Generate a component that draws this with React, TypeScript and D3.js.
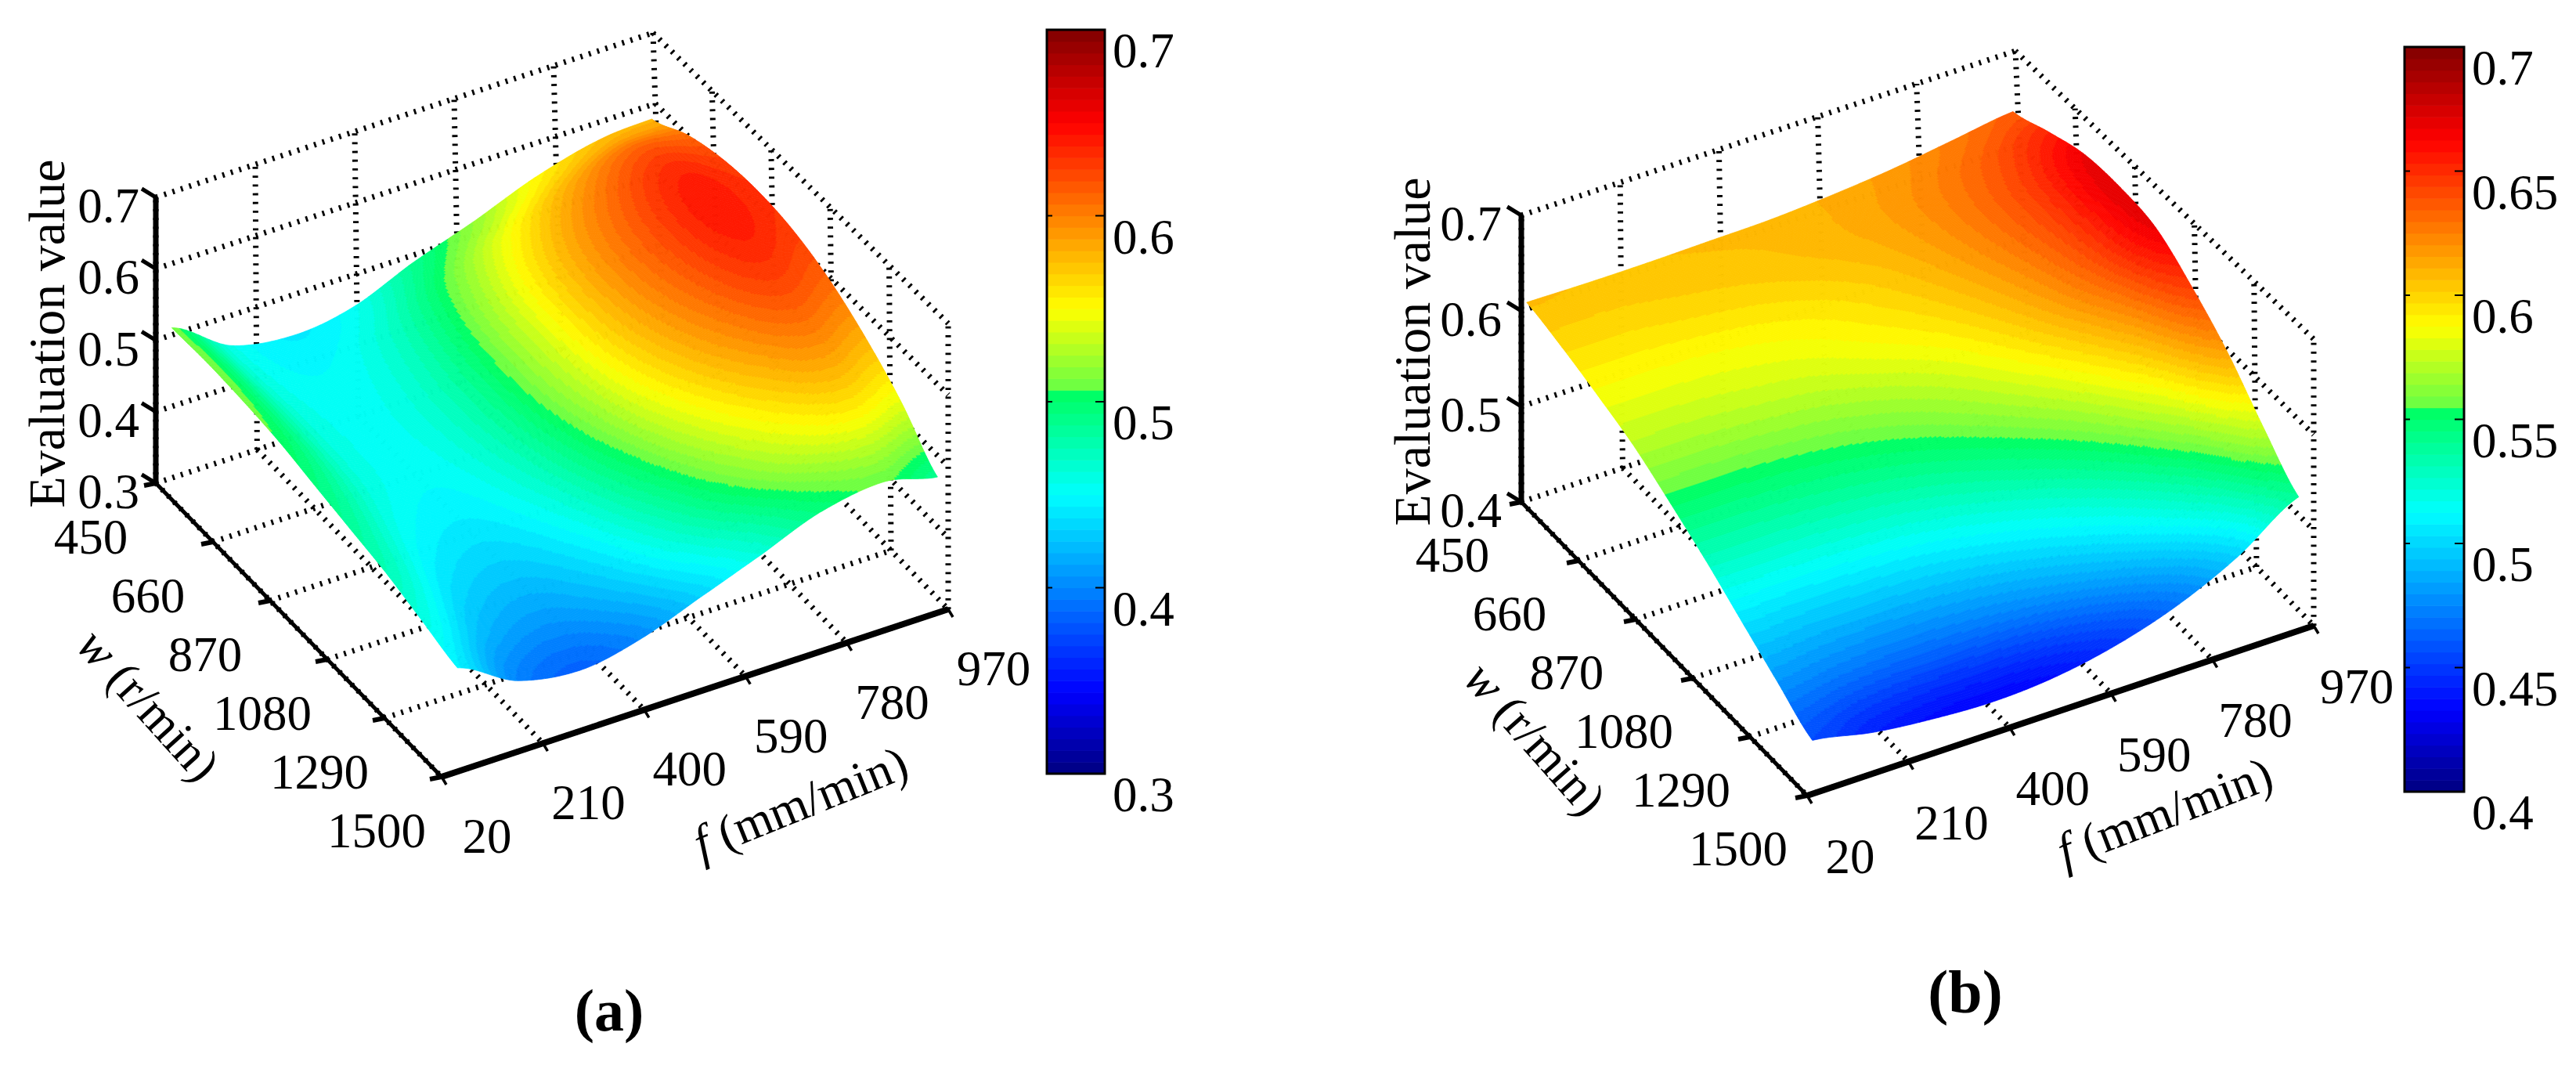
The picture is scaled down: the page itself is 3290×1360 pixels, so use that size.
import * as d3 from "d3";

const wTicks = [450, 660, 870, 1080, 1290, 1500];
const fTicks = [20, 210, 400, 590, 780, 970];

// surface samples, rows are w, columns are f
const wNodes = [450, 581, 712, 844, 975, 1106, 1237, 1369, 1500];
const fNodesA = [50, 160, 280, 390, 500, 620, 730, 850, 950];
const fNodesB = [30, 144, 258, 372, 485, 600, 714, 828, 942];

const surfaceA = [
  [0.51, 0.458, 0.443, 0.455, 0.489, 0.52, 0.552, 0.575, 0.58],
  [0.512, 0.46, 0.45, 0.468, 0.507, 0.55, 0.585, 0.612, 0.609],
  [0.51, 0.462, 0.454, 0.475, 0.518, 0.569, 0.605, 0.634, 0.626],
  [0.505, 0.462, 0.455, 0.478, 0.522, 0.575, 0.612, 0.642, 0.632],
  [0.495, 0.46, 0.452, 0.475, 0.519, 0.571, 0.608, 0.637, 0.627],
  [0.485, 0.452, 0.444, 0.466, 0.508, 0.558, 0.594, 0.621, 0.61],
  [0.475, 0.44, 0.43, 0.45, 0.489, 0.535, 0.57, 0.594, 0.581],
  [0.46, 0.423, 0.41, 0.428, 0.463, 0.504, 0.537, 0.557, 0.542],
  [0.445, 0.4, 0.385, 0.4, 0.43, 0.463, 0.495, 0.508, 0.49],
];

const surfaceB = [
  [0.607, 0.606, 0.606, 0.607, 0.608, 0.612, 0.618, 0.627, 0.636],
  [0.598, 0.598, 0.6, 0.602, 0.606, 0.612, 0.622, 0.636, 0.653],
  [0.586, 0.586, 0.587, 0.59, 0.596, 0.606, 0.621, 0.641, 0.668],
  [0.572, 0.572, 0.574, 0.577, 0.585, 0.596, 0.614, 0.639, 0.672],
  [0.552, 0.552, 0.554, 0.558, 0.566, 0.58, 0.601, 0.63, 0.668],
  [0.53, 0.53, 0.532, 0.536, 0.544, 0.558, 0.578, 0.607, 0.645],
  [0.505, 0.503, 0.504, 0.507, 0.515, 0.528, 0.548, 0.577, 0.615],
  [0.48, 0.475, 0.472, 0.474, 0.48, 0.492, 0.511, 0.539, 0.575],
  [0.456, 0.443, 0.436, 0.433, 0.437, 0.449, 0.469, 0.499, 0.54],
];

const zTicksA = [0.3, 0.4, 0.5, 0.6, 0.7];
const zTicksB = [0.4, 0.5, 0.6, 0.7];
const barTicksA = [0.3, 0.4, 0.5, 0.6, 0.7];
const barTicksB = [0.4, 0.45, 0.5, 0.55, 0.6, 0.65, 0.7];

// colormap stops of the bar (jet with the odd step at green)
const cmapStops = [0, 0.11, 0.375, 0.51, 0.515, 0.625, 0.75, 0.875, 1];
const cmapColors = ["#000080", "#0000ff", "#00ffff", "#00ff64", "#64ff46", "#ffff00", "#ff8000", "#ff0000", "#800000"];
const cmapLevels = 64;

const jet = d3.scaleLinear<string>().domain(cmapStops).range(cmapColors).clamp(true);

const FONT = "'Liberation Serif', 'Times New Roman', serif";
const GRID_STEPS = 260;

// catmull-rom through the read samples, only to shade between them
const cr = (a: number, b: number, c: number, d: number, t: number) =>
  0.5 * (2 * b + (c - a) * t + (2 * a - 5 * b + 4 * c - d) * t * t + (3 * b - a - 3 * c + d) * t * t * t);

const sample = (m: number[][], r: number, c: number) => {
  const nr = m.length - 1, nc = m[0].length - 1;
  const i = Math.min(nr - 1, Math.floor(r)), j = Math.min(nc - 1, Math.floor(c));
  const tr = r - i, tc = c - j;
  const rowAt = (k: number) => {
    const row = m[Math.max(0, Math.min(nr, k))];
    const at = (q: number) => row[Math.max(0, Math.min(nc, q))];
    return cr(at(j - 1), at(j), at(j + 1), at(j + 2), tc);
  };
  return cr(rowAt(i - 1), rowAt(i), rowAt(i + 1), rowAt(i + 2), tr);
};

type PanelProps = {
  origin: [number, number];
  wVec: [number, number];
  fVec: [number, number];
  zVec: [number, number];
  lean: [number, number];
  zTicks: number[];
  fNodes: number[];
  surface: number[][];
  barX: number;
  barY: [number, number];
  barWidth: number;
  barTicks: number[];
  wLabel: [number, number];
  fLabel: [number, number];
  zLabelX: number;
  zTitle: [number, number];
  wTitle: [number, number, number];
  fTitle: [number, number, number];
};

const Panel = (p: PanelProps) => {
  const zMin = p.zTicks[0], zMax = p.zTicks[p.zTicks.length - 1];
  const wS = d3.scaleLinear().domain([450, 1500]).range([0, 1]);
  const fS = d3.scaleLinear().domain([20, 970]).range([0, 1]);
  const zS = d3.scaleLinear().domain([zMin, zMax]).range([0, 1]);
  const colorT = d3.scaleLinear().domain([zMin, zMax]).range([0, 1]).clamp(true);

  const project = (w: number, f: number, z: number, leaning = true): [number, number] => {
    const a = wS(w), b = fS(f), c = zS(z);
    const persp = leaning ? b * (1 - a) * c : 0;
    return [
      p.origin[0] + a * p.wVec[0] + b * p.fVec[0] + c * p.zVec[0] + persp * p.lean[0],
      p.origin[1] + a * p.wVec[1] + b * p.fVec[1] + c * p.zVec[1] + persp * p.lean[1],
    ];
  };

  const line = (a: [number, number], b: [number, number]) => `M${a[0]},${a[1]}L${b[0]},${b[1]}`;

  // dotted box walls and floor
  const fMax = 970, wMin = 450, wMax = 1500, fMin = 20;
  const grid: string[] = [];
  fTicks.forEach((f) => {
    grid.push(line(project(wMin, f, zMin), project(wMin, f, zMax)));
    grid.push(line(project(wMin, f, zMin), project(wMax, f, zMin)));
  });
  wTicks.forEach((w) => {
    grid.push(line(project(w, fMax, zMin), project(w, fMax, zMax)));
    grid.push(line(project(w, fMin, zMin), project(w, fMax, zMin)));
  });
  p.zTicks.forEach((z) => {
    grid.push(line(project(wMin, fMin, z), project(wMin, fMax, z)));
    grid.push(line(project(wMin, fMax, z), project(wMax, fMax, z)));
  });

  // surface strips, far to near, merged by colour band
  const rowS = d3.scaleLinear().domain([0, GRID_STEPS]).range([0, wNodes.length - 1]);
  const colS = d3.scaleLinear().domain([0, GRID_STEPS]).range([0, p.fNodes.length - 1]);
  const wAt = d3.scaleLinear().domain(d3.range(wNodes.length)).range(wNodes);
  const fAt = d3.scaleLinear().domain(d3.range(p.fNodes.length)).range(p.fNodes);
  const strips: { d: string; fill: string }[] = [];
  for (let i = 0; i < GRID_STEPS; i++) {
    let start = GRID_STEPS;
    let cur = -1;
    const flush = (end: number) => {
      if (cur < 0) return;
      const top: string[] = [], bottom: string[] = [];
      for (let j = start; j >= end; j--) {
        const c = colS(j);
        const r0 = rowS(i), r1 = rowS(i + 1);
        const a = project(wAt(r0), fAt(c), sample(p.surface, r0, c), false);
        const b = project(wAt(r1), fAt(c), sample(p.surface, r1, c), false);
        top.push(`${a[0].toFixed(1)},${a[1].toFixed(1)}`);
        bottom.unshift(`${b[0].toFixed(1)},${b[1].toFixed(1)}`);
      }
      strips.push({ d: "M" + top.concat(bottom).join("L") + "Z", fill: jet((cur + 0.5) / cmapLevels) });
    };
    for (let j = GRID_STEPS - 1; j >= 0; j--) {
      const r = rowS(i + 0.5), c = colS(j + 0.5);
      const t = colorT(sample(p.surface, r, c));
      const lv = Math.min(cmapLevels - 1, Math.floor(t * cmapLevels));
      if (lv !== cur) {
        flush(j + 1);
        start = j + 1;
        cur = lv;
      }
    }
    flush(0);
  }

  const barScale = d3.scaleLinear().domain([zMin, zMax]).range([p.barY[1], p.barY[0]]);
  const bands = d3.range(cmapLevels);
  const bandH = (p.barY[1] - p.barY[0]) / cmapLevels;

  const z0 = project(wMin, fMin, zMin), z1 = project(wMin, fMin, zMax);
  const corner = project(wMax, fMin, zMin), far = project(wMax, fMax, zMin);

  return (
    <g fontFamily={FONT} fontSize={63} fill="#000">
      <path d={grid.join("")} fill="none" stroke="#000" strokeWidth={7} strokeDasharray="2.8 8.4" />
      <g>
        {strips.map((s, i) => (
          <path key={i} d={s.d} fill={s.fill} stroke={s.fill} strokeWidth={0.8} />
        ))}
      </g>

      {/* axes */}
      <path d={line(z0, z1)} stroke="#000" strokeWidth={7} />
      <path d={line(z0, corner)} stroke="#000" strokeWidth={5} />
      <path d={line(corner, far)} stroke="#000" strokeWidth={8} />
      {p.zTicks.map((z) => {
        const t = project(wMin, fMin, z);
        return <path key={z} d={`M${t[0] - 18},${t[1] - 11}L${t[0]},${t[1]}`} fill="none" stroke="#000" strokeWidth={5} />;
      })}
      {wTicks.map((w) => {
        const t = project(w, fMin, zMin);
        return <path key={w} d={`M${t[0] - 15},${t[1] + 3}L${t[0]},${t[1]}`} stroke="#000" strokeWidth={6} />;
      })}
      {fTicks.map((f) => {
        const t = project(wMax, f, zMin);
        return <path key={f} d={`M${t[0]},${t[1]}L${t[0] + 6},${t[1] + 10}`} stroke="#000" strokeWidth={3.5} />;
      })}

      {/* tick labels */}
      {p.zTicks.map((z) => {
        const t = project(wMin, fMin, z);
        return (
          <text key={z} x={p.zLabelX} y={t[1] + 32} textAnchor="end">
            {z.toFixed(1)}
          </text>
        );
      })}
      {wTicks.map((w) => {
        const t = project(w, fMin, zMin);
        return (
          <text key={w} x={t[0] + p.wLabel[0]} y={t[1] + p.wLabel[1] + 21} textAnchor="middle">
            {w}
          </text>
        );
      })}
      {fTicks.map((f) => {
        const t = project(wMax, f, zMin);
        return (
          <text key={f} x={t[0] + p.fLabel[0]} y={t[1] + p.fLabel[1] + 21} textAnchor="middle">
            {f}
          </text>
        );
      })}

      {/* axis titles */}
      <text transform={`translate(${p.zTitle[0]},${p.zTitle[1]}) rotate(-90)`} textAnchor="middle" fontSize={66}>
        Evaluation value
      </text>
      <text transform={`translate(${p.wTitle[0]},${p.wTitle[1]}) rotate(${p.wTitle[2]})`} textAnchor="middle">
        <tspan fontStyle="italic">w</tspan> (r/min)
      </text>
      <text transform={`translate(${p.fTitle[0]},${p.fTitle[1]}) rotate(${p.fTitle[2]})`} textAnchor="middle">
        <tspan fontStyle="italic">f</tspan> (mm/min)
      </text>

      {/* colour bar */}
      {bands.map((k) => (
        <rect
          key={k}
          x={p.barX}
          y={p.barY[1] - (k + 1) * bandH}
          width={p.barWidth}
          height={bandH + 0.6}
          fill={jet((k + 0.5) / cmapLevels)}
        />
      ))}
      <rect x={p.barX} y={p.barY[0]} width={p.barWidth} height={p.barY[1] - p.barY[0]} fill="none" stroke="#000" strokeWidth={3} />
      {p.barTicks.map((v) => (
        <g key={v}>
          <path
            d={`M${p.barX},${barScale(v)}h7M${p.barX + p.barWidth},${barScale(v)}h-12`}
            stroke="#000"
            strokeWidth={2}
          />
          <text x={p.barX + p.barWidth + 10} y={barScale(v) + 48}>
            {v}
          </text>
        </g>
      ))}
    </g>
  );
};

const App = () => {
  return (
    <svg width={3290} height={1360} style={{ position: "absolute", left: 0, top: 0, background: "#fff" }}>
      <Panel
        origin={[199, 617]}
        wVec={[365, 375]}
        fVec={[647, -214]}
        zVec={[0, -365]}
        lean={[-12, 4]}
        zTicks={zTicksA}
        fNodes={fNodesA}
        surface={surfaceA}
        barX={1337}
        barY={[38, 988]}
        barWidth={74}
        barTicks={barTicksA}
        wLabel={[-83, 69]}
        fLabel={[58, 76]}
        zLabelX={178}
        zTitle={[82, 426]}
        wTitle={[174, 914, 48]}
        fTitle={[1030, 1045, -22]}
      />
      <Panel
        origin={[1943, 641]}
        wVec={[365, 375]}
        fVec={[647, -217]}
        zVec={[0, -366]}
        lean={[-16, 7]}
        zTicks={zTicksB}
        fNodes={fNodesB}
        surface={surfaceB}
        barX={3071}
        barY={[60, 1011]}
        barWidth={76}
        barTicks={barTicksB}
        wLabel={[-88, 68]}
        fLabel={[55, 78]}
        zLabelX={1918}
        zTitle={[1826, 449]}
        wTitle={[1945, 957, 48.5]}
        fTitle={[2772, 1057, -21]}
      />
      <text x={778} y={1316} textAnchor="middle" fontFamily={FONT} fontSize={76} fontWeight="bold">
        (a)
      </text>
      <text x={2510} y={1293} textAnchor="middle" fontFamily={FONT} fontSize={78} fontWeight="bold">
        (b)
      </text>
    </svg>
  );
};

export default App;
